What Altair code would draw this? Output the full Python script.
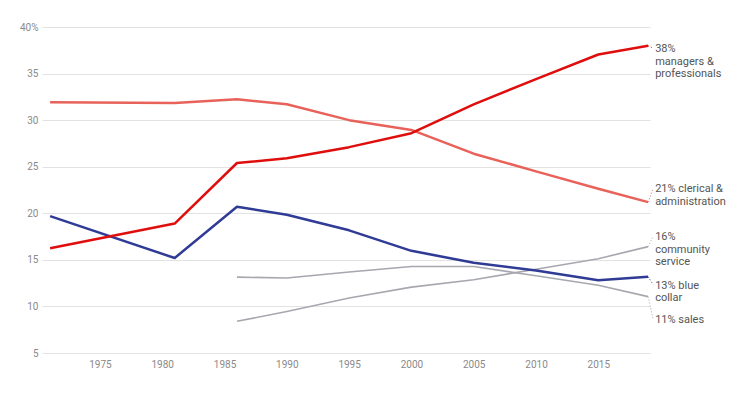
import altair as alt
import pandas as pd

# ---- data ----
years_main = [1971, 1981, 1986, 1990, 1995, 2000, 2005, 2010, 2015, 2019]
years_late = [1986, 1990, 1995, 2000, 2005, 2010, 2015, 2019]

managers = [16.25, 18.9, 25.4, 25.9, 27.1, 28.6, 31.7, 34.4, 37.05, 37.98]
clerical = [31.93, 31.85, 32.25, 31.7, 30.0, 28.95, 26.4, 24.5, 22.64, 21.2]
blue_collar = [19.7, 15.2, 20.7, 19.85, 18.17, 15.97, 14.7, 13.85, 12.8, 13.18]
community = [8.4, 9.45, 10.9, 12.07, 12.87, 14.0, 15.12, 16.42]
sales = [13.15, 13.05, 13.7, 14.28, 14.28, 13.3, 12.28, 11.05]

series_names = ["sales", "community", "clerical", "blue", "managers"]
series_years = [years_late, years_late, years_main, years_main, years_main]
series_values = [sales, community, clerical, blue_collar, managers]
series_colors = ["#a7a7b0", "#a7a7b0", "#e8625a", "#2f3b95", "#e00d0d"]
series_widths = [1.6, 1.6, 2.5, 2.5, 2.5]

label_texts = [
    "11% sales",
    "16%\ncommunity\nservice",
    "21% clerical &\nadministration",
    "13% blue\ncollar",
    "38%\nmanagers &\nprofessionals",
]
label_pos = [8.6, 17.52, 22.67, 12.35, 37.72]

y_ticks = [5, 10, 15, 20, 25, 30, 35, 40]
x_ticks = [1975, 1980, 1985, 1990, 1995, 2000, 2005, 2010, 2015]
x_domain = [1970.35, 2019.15]
y_domain = [5, 40]

FONT = "Roboto"

rows = []
for name, yrs, vals in zip(series_names, series_years, series_values):
    for yr, v in zip(yrs, vals):
        rows.append({"series": name, "year": yr, "value": v})
df = pd.DataFrame(rows)

ends = pd.DataFrame({
    "series": series_names,
    "year": [y[-1] for y in series_years],
    "value": [v[-1] for v in series_values],
    "label_pos": label_pos,
    "label": label_texts,
})

xscale = alt.Scale(domain=x_domain, nice=False, zero=False)
yscale = alt.Scale(domain=y_domain, nice=False, zero=False)

x_axis = alt.Axis(values=x_ticks, format="d", grid=False, domain=False, ticks=False,
                  labelPadding=6, labelFont=FONT, labelFontSize=10, labelColor="#8a8a8a",
                  title=None)
y_axis = alt.Axis(values=y_ticks, grid=True, gridColor="#e2e2e2", gridWidth=1,
                  domain=False, ticks=False, labelPadding=4, labelFont=FONT,
                  labelFontSize=10, labelColor="#8a8a8a", title=None,
                  labelExpr="datum.value == 40 ? '40%' : datum.label")

color_scale = alt.Scale(domain=series_names, range=series_colors)


def X(field):
    return alt.X(field, scale=xscale, axis=x_axis)


def Y(field):
    return alt.Y(field, scale=yscale, axis=y_axis)


layers = []
for name, col, w in zip(series_names, series_colors, series_widths):
    layer = (
        alt.Chart(df[df.series == name])
        .mark_line(color=col, strokeWidth=w, strokeJoin="round")
        .encode(x=X("year:Q"), y=Y("value:Q"))
    )
    layers.append(layer)

leaders = (
    alt.Chart(ends)
    .mark_rule(strokeDash=[1, 2], strokeWidth=1, x2Offset=5)
    .encode(
        x=X("year:Q"),
        x2="year:Q",
        y=Y("value:Q"),
        y2="label_pos:Q",
        color=alt.Color("series:N", scale=color_scale, legend=None),
    )
)

labels = (
    alt.Chart(ends)
    .mark_text(align="left", baseline="alphabetic", dx=7, dy=4, lineBreak="\n",
               fontSize=11, lineHeight=12.5, font=FONT, color="#555555")
    .encode(
        x=X("year:Q"),
        y=Y("label_pos:Q"),
        text="label:N",
    )
)

chart = (
    alt.layer(*layers, leaders, labels)
    .properties(width=608, height=326,
                autosize=alt.AutoSizeParams(type="none"),
                padding={"left": 34, "top": 19, "right": 96, "bottom": 30})
    .configure_view(strokeWidth=0)
)

chart.save("out.html", embed_options={"renderer": "svg", "actions": False})
